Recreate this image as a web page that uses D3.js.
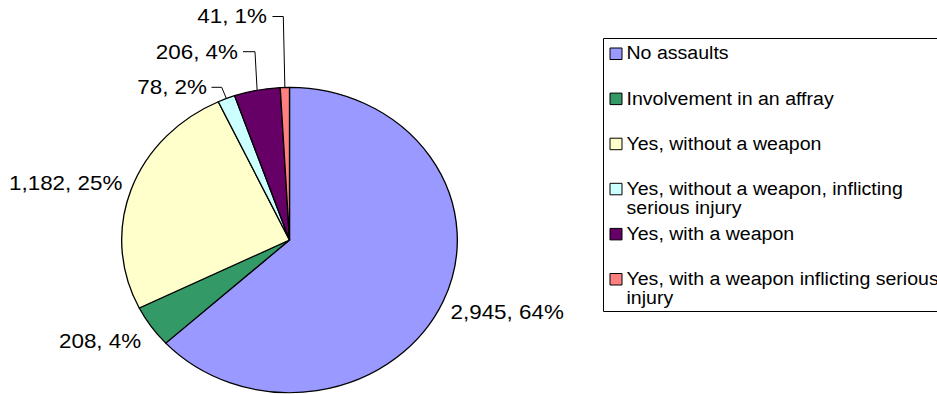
<!DOCTYPE html>
<html>
<head>
<meta charset="utf-8">
<script src="https://cdn.jsdelivr.net/npm/d3@7"></script>
<style>
  html, body { margin: 0; padding: 0; background: #fff; }
  svg { display: block; }
  text { font-family: Arial, "Liberation Sans", sans-serif; fill: #000; }
</style>
</head>
<body>
<svg id="chart" width="937" height="394"></svg>
<script>
// Assault involvement counts
const categories = [
  "No assaults",
  "Involvement in an affray",
  "Yes, without a weapon",
  "Yes, without a weapon, inflicting serious injury",
  "Yes, with a weapon",
  "Yes, with a weapon inflicting serious injury"
];
const counts = [2945, 208, 1182, 78, 206, 41];
const percentLabels = ["64%", "4%", "25%", "2%", "4%", "1%"];
const colors = ["#9999FF", "#339966", "#FFFFCC", "#CCFFFF", "#660066", "#FF8080"];

// The whole drawing is widened horizontally by this factor
const SX = 1.099;
const W = 937, H = 394;

// Pie geometry (screen pixels)
const cx = 289.5, cy = 240, radius = 152.7;

// Label placement (screen pixels): text anchor point, baseline, optional leader bend
const labelLayout = [
  { x: 450.5, y: 319.5, anchor: "start" },
  { x: 59,  y: 348.3, anchor: "start" },
  { x: 9,   y: 190.5, anchor: "start" },
  { x: 207, y: 94, anchor: "end", lineStart: [211.5, 87.3], bend: [221.7, 87.3] },
  { x: 238, y: 59, anchor: "end", lineStart: [243, 51.7], bend: [255, 51.7] },
  { x: 267, y: 23, anchor: "end", lineStart: [272.5, 16.5], bend: [283.3, 16.5] }
];

const fmt = d3.format(",");

const svg = d3.select("#chart");
svg.append("rect").attr("width", W).attr("height", H).attr("fill", "#fff");

const g = svg.append("g").attr("transform", `scale(${SX},1)`);
const ux = x => x / SX; // screen x -> drawing x

// Pie
const pie = d3.pie().sort(null).value(d => d)(counts);
const arc = d3.arc().innerRadius(0).outerRadius(radius);

const pieG = g.append("g").attr("transform", `translate(${ux(cx)},${cy})`);
pieG.selectAll("path.slice")
  .data(pie)
  .join("path")
  .attr("class", "slice")
  .attr("d", arc)
  .attr("fill", (d, i) => colors[i])
  .attr("stroke", "#000")
  .attr("stroke-width", 1.2)
  .attr("stroke-linejoin", "round");

// Data labels
const labelsG = g.append("g");
pie.forEach((d, i) => {
  const L = labelLayout[i];
  labelsG.append("text")
    .attr("x", ux(L.x))
    .attr("y", L.y)
    .attr("text-anchor", L.anchor)
    .attr("font-size", 20.4)
    .text(`${fmt(counts[i])}, ${percentLabels[i]}`);
  if (L.bend) {
    const mid = (d.startAngle + d.endAngle) / 2;
    const ex = ux(cx) + Math.sin(mid) * radius;
    const ey = cy - Math.cos(mid) * radius;
    labelsG.append("path")
      .attr("d", d3.line()([[ux(L.lineStart[0]), L.lineStart[1]], [ux(L.bend[0]), L.bend[1]], [ex, ey]]))
      .attr("fill", "none")
      .attr("stroke", "#000")
      .attr("stroke-width", 1)
      .attr("vector-effect", "non-scaling-stroke");
  }
});

// Legend
const legBox = { x: 603, y: 38, bottom: 311 };
g.append("rect")
  .attr("x", ux(legBox.x) + 0.5 / SX)
  .attr("y", legBox.y + 0.5)
  .attr("width", ux(W + 10 - legBox.x))
  .attr("height", legBox.bottom - legBox.y)
  .attr("fill", "#fff")
  .attr("stroke", "#000")
  .attr("stroke-width", 1)
  .attr("vector-effect", "non-scaling-stroke");

const legendFont = 17.8;
const firstBaseline = 59.5, rowStep = 45.1, lineStep = 19;
const wrapWidth = 292;
const textX = 626.5;

const legG = g.append("g");
categories.forEach((name, i) => {
  const base = firstBaseline + i * rowStep;
  legG.append("rect")
    .attr("x", ux(610))
    .attr("y", base - 11.5)
    .attr("width", ux(622) - ux(610))
    .attr("height", 11.5)
    .attr("fill", colors[i])
    .attr("stroke", "#000")
    .attr("stroke-width", 1)
    .attr("vector-effect", "non-scaling-stroke");

  const t = legG.append("text")
    .attr("x", ux(textX))
    .attr("y", base)
    .attr("font-size", legendFont);

  // word wrap
  const words = name.split(" ");
  let line = [];
  let tspan = t.append("tspan").attr("x", ux(textX)).attr("y", base);
  let lineNo = 0;
  words.forEach(w => {
    line.push(w);
    tspan.text(line.join(" "));
    if (tspan.node().getComputedTextLength() > wrapWidth && line.length > 1) {
      line.pop();
      tspan.text(line.join(" "));
      line = [w];
      lineNo++;
      tspan = t.append("tspan").attr("x", ux(textX)).attr("y", base + lineNo * lineStep).text(w);
    }
  });
});
</script>
</body>
</html>
